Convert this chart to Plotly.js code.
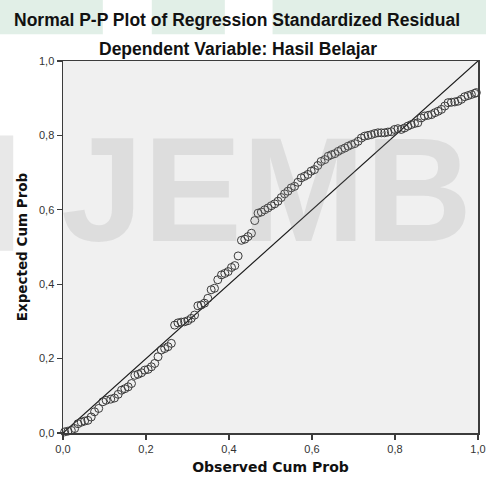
<!DOCTYPE html>
<html>
<head>
<meta charset="utf-8">
<script src="https://cdn.plot.ly/plotly-3.0.1.min.js"></script>
<style>html,body{margin:0;padding:0;background:#fff;}#chart{width:486px;height:478px;}</style>
</head>
<body>
<div id="chart"></div>
<script>
// Observed cumulative probability (x) and expected cumulative probability (y)
const observedCumProb = [0.004,0.012,0.020,0.028,0.036,0.044,0.052,0.060,0.068,0.076,0.086,0.096,0.104,0.115,0.124,0.133,0.141,0.149,0.157,0.165,0.173,0.181,0.189,0.197,0.205,0.213,0.221,0.229,0.237,0.245,0.253,0.261,0.269,0.277,0.285,0.293,0.301,0.309,0.317,0.325,0.333,0.341,0.349,0.357,0.365,0.373,0.382,0.390,0.398,0.406,0.414,0.422,0.430,0.438,0.446,0.454,0.462,0.470,0.478,0.486,0.494,0.502,0.510,0.518,0.526,0.534,0.542,0.550,0.558,0.566,0.574,0.582,0.590,0.598,0.606,0.614,0.622,0.631,0.639,0.647,0.655,0.663,0.671,0.679,0.687,0.695,0.703,0.711,0.719,0.727,0.735,0.743,0.751,0.759,0.767,0.775,0.783,0.791,0.799,0.807,0.815,0.823,0.831,0.839,0.847,0.855,0.863,0.871,0.880,0.888,0.896,0.904,0.912,0.920,0.928,0.936,0.944,0.952,0.960,0.968,0.976,0.984,0.992,0.996];
const expectedCumProb = [0.003,0.005,0.007,0.012,0.025,0.029,0.032,0.034,0.043,0.057,0.066,0.084,0.088,0.091,0.094,0.104,0.115,0.119,0.124,0.133,0.155,0.158,0.162,0.169,0.171,0.178,0.187,0.205,0.223,0.227,0.232,0.241,0.290,0.296,0.298,0.299,0.302,0.308,0.317,0.342,0.344,0.349,0.362,0.385,0.389,0.412,0.425,0.429,0.434,0.445,0.450,0.476,0.518,0.521,0.528,0.537,0.571,0.591,0.594,0.600,0.605,0.611,0.616,0.623,0.633,0.643,0.650,0.659,0.663,0.674,0.686,0.690,0.695,0.704,0.708,0.719,0.730,0.735,0.744,0.748,0.751,0.757,0.762,0.766,0.771,0.775,0.778,0.784,0.793,0.798,0.800,0.802,0.805,0.807,0.807,0.807,0.809,0.810,0.816,0.818,0.816,0.820,0.825,0.829,0.832,0.834,0.847,0.852,0.854,0.856,0.861,0.865,0.870,0.879,0.888,0.889,0.890,0.892,0.897,0.904,0.907,0.910,0.913,0.915];
const refLineX = [0, 1];
const refLineY = [0, 1];
const tickVals = [0, 0.2, 0.4, 0.6, 0.8, 1.0];
const tickLabels = ["0,0", "0,2", "0,4", "0,6", "0,8", "1,0"];

const traces = [
  {x: refLineX, y: refLineY, mode: 'lines', type: 'scatter',
   line: {color: '#1a1a1a', width: 1.2}, hoverinfo: 'skip', showlegend: false, cliponaxis: false},
  {x: observedCumProb, y: expectedCumProb, mode: 'markers', type: 'scatter',
   marker: {symbol: 'circle-open', size: 8, color: '#3a3a3a', line: {width: 1, color: '#3a3a3a'}},
   showlegend: false, cliponaxis: false}
];

const axisCommon = {
  range: [0, 1], tickvals: tickVals, ticktext: tickLabels,
  showgrid: false, zeroline: false, showline: true, mirror: true,
  linecolor: '#3c3c3c', linewidth: 1.5, ticks: 'outside', ticklen: 5,
  tickcolor: '#3c3c3c', tickwidth: 1.2,
  tickfont: {family: 'Liberation Sans, Arial, sans-serif', size: 11, color: '#333'}
};

const layout = {
  width: 486, height: 478,
  margin: {l: 63, r: 8, t: 61, b: 45},
  paper_bgcolor: '#ffffff', plot_bgcolor: '#f0f0f0',
  showlegend: false,
  xaxis: Object.assign({}, axisCommon, {
    title: {text: 'Observed Cum Prob', standoff: 8,
            font: {family: 'DejaVu Sans, sans-serif', size: 14, color: '#111', weight: 'bold'}}
  }),
  yaxis: Object.assign({}, axisCommon, {
    title: {text: 'Expected Cum Prob', standoff: 8,
            font: {family: 'DejaVu Sans, sans-serif', size: 13.5, color: '#111', weight: 'bold'}}
  }),
  shapes: [
    {type: 'rect', xref: 'paper', yref: 'paper', x0: -0.152, x1: 0.096, y0: 1.072, y1: 1.255, layer: 'below', line: {width: 0}, fillcolor: 'rgba(170,210,185,0.35)'},
    {type: 'rect', xref: 'paper', yref: 'paper', x0: 0.214, x1: 0.390, y0: 1.072, y1: 1.31, layer: 'below', line: {width: 0}, fillcolor: 'rgba(170,210,185,0.35)'},
    {type: 'rect', xref: 'paper', yref: 'paper', x0: 0.505, x1: 1.02, y0: 1.072, y1: 1.31, layer: 'below', line: {width: 0}, fillcolor: 'rgba(170,210,185,0.35)'},
    {type: 'rect', xref: 'paper', yref: 'paper', x0: -0.152, x1: -0.12, y0: 0.49, y1: 0.8, layer: 'below', line: {width: 0}, fillcolor: 'rgba(150,150,150,0.22)'}
  ],
  annotations: [
    {text: 'Normal P-P Plot of Regression Standardized Residual', xref: 'paper', yref: 'paper',
     x: 0.42, y: 1.111, yanchor: 'middle', xanchor: 'center', showarrow: false,
     font: {family: 'Liberation Sans, Arial, sans-serif', size: 17.5, color: '#111', weight: 'bold'}},
    {text: 'Dependent Variable: Hasil Belajar', xref: 'paper', yref: 'paper',
     x: 0.422, y: 1.033, yanchor: 'middle', xanchor: 'center', showarrow: false,
     font: {family: 'Liberation Sans, Arial, sans-serif', size: 17.5, color: '#111', weight: 'bold'}},
    {text: 'JEMB', xref: 'paper', yref: 'paper', x: 0.49, y: 0.655, xanchor: 'center', yanchor: 'middle',
     showarrow: false,
     font: {family: 'Liberation Sans, Arial, sans-serif', size: 148, color: 'rgba(140,140,140,0.18)', weight: 'bold'}}
  ],
  separators: ',.'
};

Plotly.newPlot('chart', traces, layout, {displayModeBar: false, staticPlot: true});
</script>
</body>
</html>
